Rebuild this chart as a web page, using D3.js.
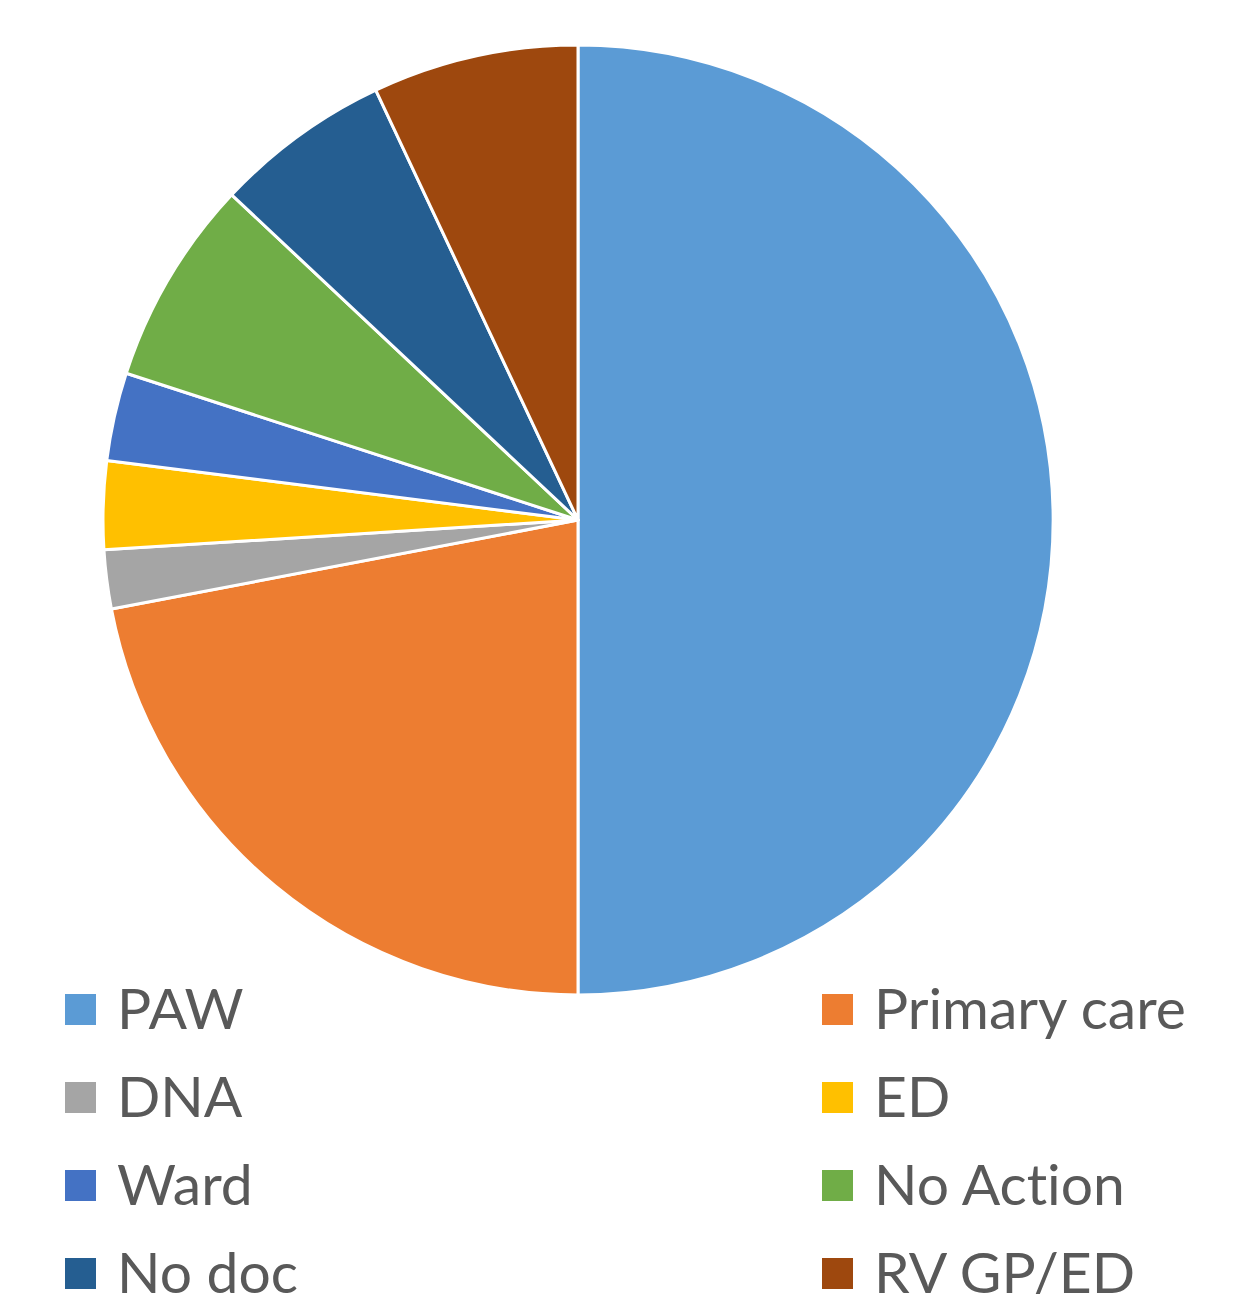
<!DOCTYPE html>
<html>
<head>
<meta charset="utf-8">
<script src="https://cdn.jsdelivr.net/npm/d3@7"></script>
<style>
body { margin: 0; background: #fff; }
svg { display: block; }
</style>
</head>
<body>
<script>
const width = 1245, height = 1294;

// values (percent)
const categories = ["PAW", "Primary care", "DNA", "ED", "Ward", "No Action", "No doc", "RV GP/ED"];
const values = [50, 22, 2, 3, 3, 7, 6, 7];
const colors = ["#5B9BD5", "#ED7D31", "#A5A5A5", "#FFC000", "#4472C4", "#70AD47", "#255E91", "#9E480E"];

const data = categories.map((c, i) => ({name: c, value: values[i]}));

const svg = d3.select("body").append("svg")
.attr("width", width)
.attr("height", height);

const cx = 578, cy = 520, r = 475;

const pie = d3.pie()
.value(d => d.value)
.sort(null);

const arc = d3.arc()
.innerRadius(0)
.outerRadius(r);

const color = d3.scaleOrdinal()
.domain(categories)
.range(colors);

svg.append("g")
.attr("transform", `translate(${cx},${cy})`)
.selectAll("path")
.data(pie(data))
.join("path")
.attr("d", arc)
.attr("fill", d => color(d.data.name))
.attr("stroke", "#fff")
.attr("stroke-width", 3)
.attr("stroke-linejoin", "round");

// legend, two columns (last row is cut by the bottom edge, as in the original)
const legend = svg.append("g")
.selectAll("g")
.data(categories)
.join("g")
.attr("transform", (d, i) => `translate(${i % 2 ? 822 : 65},${994 + Math.floor(i / 2) * 88})`);

legend.append("rect")
.attr("width", 31)
.attr("height", 31)
.attr("fill", d => color(d));

legend.append("text")
.attr("x", 52)
.attr("y", 35)
.attr("font-family", "Lato, 'Open Sans', sans-serif")
.attr("font-size", 57)
.style("font-variant-ligatures", "none")
.attr("fill", "#595959")
.text(d => d);
</script>
</body>
</html>
